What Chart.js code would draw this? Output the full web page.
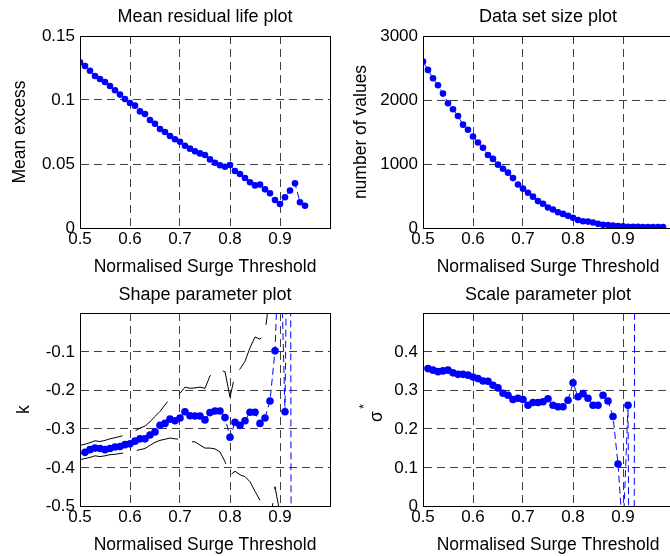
<!DOCTYPE html>
<html>
<head>
<meta charset="utf-8">
<script src="https://cdn.jsdelivr.net/npm/chart.js@4.4.1/dist/chart.umd.min.js"></script>
<style>
html,body{margin:0;padding:0;background:#fff;overflow:hidden;}
#wrap{position:relative;width:670px;height:556px;overflow:hidden;background:#fff;}
canvas{position:absolute;display:block;}
</style>
</head>
<body>
<div id="wrap">
<canvas id="c1" width="335" height="278" style="left:0;top:0;width:335px;height:278px"></canvas>
<canvas id="c2" width="345" height="278" style="left:335px;top:0;width:345px;height:278px"></canvas>
<canvas id="c3" width="335" height="278" style="left:0;top:278px;width:335px;height:278px"></canvas>
<canvas id="c4" width="345" height="278" style="left:335px;top:278px;width:345px;height:278px"></canvas>
</div>
<script>
// ---------------- data ----------------
const thresholds = [0.50,0.51,0.52,0.53,0.54,0.55,0.56,0.57,0.58,0.59,
                    0.60,0.61,0.62,0.63,0.64,0.65,0.66,0.67,0.68,0.69,
                    0.70,0.71,0.72,0.73,0.74,0.75,0.76,0.77,0.78,0.79,
                    0.80,0.81,0.82,0.83,0.84,0.85,0.86,0.87,0.88,0.89,
                    0.90,0.91,0.92,0.93,0.94,0.95,0.96,0.97,0.98];

const meanExcess = [0.1294,0.1266,0.1229,0.1188,0.1164,0.1141,0.1109,0.1076,0.1042,0.1008,
                    0.0977,0.0956,0.0911,0.0891,0.0844,0.0815,0.0773,0.0750,0.0719,0.0693,
                    0.0674,0.0643,0.0620,0.0599,0.0583,0.0570,0.0536,0.0510,0.0490,0.0479,
                    0.0492,0.0445,0.0422,0.0391,0.0357,0.0333,0.0339,0.0302,0.0271,0.0219,
                    0.0188,0.0240,0.0292,0.0349,0.0201,0.0174];

const numValues = [2600,2470,2340,2230,2100,1950,1855,1750,1615,1535,
                   1430,1335,1255,1140,1080,990,925,865,780,680,
                   615,550,490,420,380,320,290,245,220,190,
                   160,125,105,100,85,65,50,45,40,30,
                   25,20,20,20,15,15,15,15,15];

const shapeK = [-0.365,-0.361,-0.354,-0.350,-0.351,-0.354,-0.351,-0.347,-0.346,-0.341,
                -0.339,-0.332,-0.326,-0.326,-0.316,-0.308,-0.291,-0.286,-0.275,-0.279,
                -0.272,-0.256,-0.266,-0.267,-0.267,-0.277,-0.258,-0.254,-0.254,-0.271,
                -0.322,-0.283,-0.291,-0.279,-0.257,-0.257,-0.286,-0.272,-0.228,-0.098,
                0.25,-0.256,1.0,-6.0];

const shapeUpper = [-0.343,-0.340,-0.336,-0.331,-0.333,-0.330,-0.326,-0.323,-0.320,-0.316,
                    -0.312,-0.306,-0.298,-0.293,-0.282,-0.268,-0.255,-0.238,-0.221,-0.215,
                    -0.208,-0.192,-0.195,-0.194,-0.192,-0.195,-0.163,-0.150,-0.148,-0.152,
                    -0.218,-0.160,-0.145,-0.125,-0.090,-0.062,-0.068,-0.050,0.05,0.30,
                    0.80];

const shapeLower = [-0.380,-0.377,-0.374,-0.370,-0.372,-0.370,-0.367,-0.366,-0.364,-0.362,
                    -0.360,-0.357,-0.354,-0.351,-0.343,-0.335,-0.330,-0.327,-0.324,-0.326,
                    -0.327,-0.330,-0.333,-0.334,-0.342,-0.350,-0.350,-0.352,-0.360,-0.385,
                    -0.420,-0.410,-0.419,-0.424,-0.437,-0.462,-0.485,-0.560,-0.550,-0.450,
                    -0.520];

const scaleSigma = [0.358,0.356,0.352,0.348,0.350,0.352,0.345,0.341,0.341,0.339,
                    0.334,0.330,0.324,0.323,0.313,0.306,0.292,0.287,0.276,0.279,
                    0.276,0.261,0.268,0.268,0.270,0.278,0.261,0.257,0.257,0.274,
                    0.319,0.283,0.291,0.279,0.261,0.261,0.287,0.272,0.232,0.109,
                    -0.08,0.261,-2.0,6.0];

const xTicks = [0.5,0.6,0.7,0.8,0.9];
const yTicksMRL = [0,0.05,0.1,0.15];
const yTicksSize = [0,1000,2000,3000];
const yTicksShape = [-0.5,-0.4,-0.3,-0.2,-0.1];
const yTicksScale = [0,0.1,0.2,0.3,0.4];

const xLabel = 'Normalised Surge Threshold';
const titles = ['Mean residual life plot','Data set size plot','Shape parameter plot','Scale parameter plot'];
const yLabels = ['Mean excess','number of values','k'];
const sigmaText = 'σ';
const sigmaSup = '*';

// ---------------- helpers ----------------
const FONT = "'Liberation Sans', Arial, Helvetica, sans-serif";
Chart.defaults.font.family = FONT;
Chart.defaults.color = '#000';

const BLUE = '#0000ff';
const toPoints = ys => ys.map((y, i) => ({x: thresholds[i], y}));

const boxPlugin = {
  id: 'axesBox',
  afterDatasetsDraw(chart) {
    const a = chart.chartArea, ctx = chart.ctx;
    const l = Math.round(a.left), t = Math.round(a.top), r = Math.round(a.right), b = Math.round(a.bottom);
    ctx.save();
    ctx.setLineDash([]);
    ctx.strokeStyle = '#000';
    ctx.lineWidth = 1;
    ctx.strokeRect(l + 0.5, t + 0.5, r - l, b - t);
    ctx.restore();
  }
};

const sigmaPlugin = {
  id: 'sigmaLabel',
  afterDraw(chart) {
    const ctx = chart.ctx, a = chart.chartArea;
    const cy = (a.top + a.bottom) / 2;
    ctx.save();
    ctx.fillStyle = '#000';
    ctx.textAlign = 'center';
    ctx.textBaseline = 'alphabetic';
    ctx.font = '17.5px ' + FONT;
    ctx.translate(46.5, cy + 7);
    ctx.rotate(-Math.PI / 2);
    ctx.fillText(sigmaText, 0, 0);
    ctx.restore();
    ctx.save();
    ctx.fillStyle = '#000';
    ctx.textAlign = 'center';
    ctx.textBaseline = 'alphabetic';
    ctx.font = '12px ' + FONT;
    ctx.translate(33, cy - 3);
    ctx.rotate(-Math.PI / 2);
    ctx.fillText(sigmaSup, 0, 0);
    ctx.restore();
  }
};

function makeChart(id, c) {
  const plugins = [boxPlugin];
  if (c.extraPlugin) plugins.push(c.extraPlugin);
  return new Chart(document.getElementById(id), {
    type: 'scatter',
    data: {datasets: c.datasets},
    options: {
      responsive: false,
      animation: false,
      devicePixelRatio: 1,
      events: [],
      layout: {padding: {left: 0, right: c.rightPad, top: 0, bottom: 0}},
      plugins: {
        legend: {display: false},
        tooltip: {enabled: false},
        title: {
          display: true, text: c.title, fullSize: false, color: '#000',
          font: {size: 18, family: FONT, weight: 'normal', lineHeight: 1.2},
          padding: {top: 6.5, bottom: c.titlePadBottom}
        }
      },
      scales: {
        x: {
          type: 'linear', position: 'bottom', min: 0.5, max: 1.0,
          afterBuildTicks: s => { s.ticks = xTicks.map(v => ({value: v})); },
          afterFit: s => { s.height = 50; },
          grid: {color: '#404040', lineWidth: 1, drawTicks: false},
          border: {display: true, color: '#000', width: 1, dash: [8, 5]},
          ticks: {autoSkip: false, maxRotation: 0, padding: 1.5, color: '#000',
                  font: {size: 17, family: FONT}, callback: v => String(v)},
          title: {display: true, text: xLabel, color: '#000',
                  font: {size: 17.5, family: FONT, lineHeight: 1.2}, padding: {top: 0, bottom: 0.5}}
        },
        y: {
          type: 'linear', position: 'left', min: c.yMin, max: c.yMax,
          afterBuildTicks: s => { s.ticks = c.yTicks.map(v => ({value: v})); },
          afterFit: s => { s.width = c.yWidth; },
          grid: {color: '#404040', lineWidth: 1, drawTicks: false},
          border: {display: true, color: '#000', width: 1, dash: [8, 5]},
          ticks: {autoSkip: false, padding: 5, labelOffset: 0.5, color: '#000',
                  font: {size: 17, family: FONT}, callback: v => String(v)},
          title: {display: !!c.yLabel, text: c.yLabel || '', color: '#000',
                  font: {size: 17.5, family: FONT, lineHeight: 1.2}, padding: {top: c.yTitlePad, bottom: 0}}
        }
      }
    },
    plugins
  });
}

const blueLine = (ys, radius, hideFirst) => ({
  data: toPoints(ys),
  showLine: true,
  borderColor: BLUE,
  borderWidth: 1,
  borderDash: [7, 4],
  backgroundColor: BLUE,
  pointBackgroundColor: BLUE,
  pointBorderWidth: 0,
  pointRadius: hideFirst ? (ctx => ctx.dataIndex === 0 ? 0 : radius) : radius,
  pointHoverRadius: radius
});

const blackBound = ys => ({
  data: toPoints(ys),
  showLine: true,
  borderColor: '#000',
  borderWidth: 1,
  borderDash: [44, 14],
  pointRadius: 0,
  pointHoverRadius: 0
});

makeChart('c1', {
  title: titles[0], titlePadBottom: 7.9, rightPad: 5, yWidth: 80,
  yMin: 0, yMax: 0.15, yTicks: yTicksMRL, yLabel: yLabels[0], yTitlePad: 10.1,
  datasets: [blueLine(meanExcess, 3.3, false)]
});

makeChart('c2', {
  title: titles[1], titlePadBottom: 7.9, rightPad: 7, yWidth: 88,
  yMin: 0, yMax: 3000, yTicks: yTicksSize, yLabel: yLabels[1], yTitlePad: 15.8,
  datasets: [blueLine(numValues, 3.3, false)]
});

makeChart('c3', {
  title: titles[2], titlePadBottom: 6.9, rightPad: 5, yWidth: 80,
  yMin: -0.5, yMax: 0, yTicks: yTicksShape, yLabel: yLabels[2], yTitlePad: 14.1,
  datasets: [blueLine(shapeK, 3.8, true), blackBound(shapeUpper), blackBound(shapeLower)]
});

makeChart('c4', {
  title: titles[3], titlePadBottom: 6.9, rightPad: 7, yWidth: 88,
  yMin: 0, yMax: 0.5, yTicks: yTicksScale, yLabel: null, yTitlePad: 0,
  extraPlugin: sigmaPlugin,
  datasets: [blueLine(scaleSigma, 3.8, true)]
});
</script>
</body>
</html>
